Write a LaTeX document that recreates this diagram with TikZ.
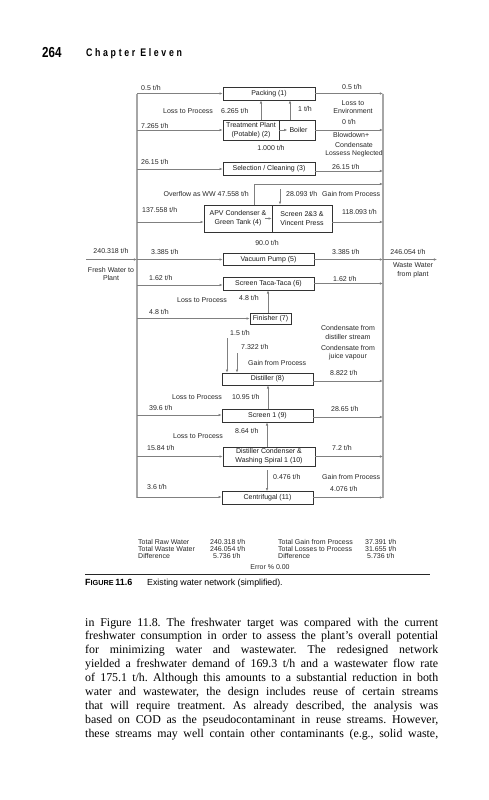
\documentclass[tikz,border=0pt]{standalone}
\usepackage{fontspec}
\usetikzlibrary{arrows.meta}
\newfontfamily\dfont{Liberation Sans}
\newfontfamily\bodyfont{Liberation Serif}
\newfontfamily\hdfont{Liberation Sans}[FakeStretch=0.8]
\newfontfamily\hdspaced{Liberation Sans}[FakeStretch=0.8,LetterSpace=24]
\newfontfamily\capfont{Liberation Sans}
\tikzset{
  lbl/.style={font=\dfont\fontsize{7}{8.5}\selectfont, text=black!85, inner sep=0pt, align=center},
  boxn/.style={draw=black!80, line width=0.6pt, inner sep=0pt, font=\dfont\fontsize{7}{9.3}\selectfont, text=black!90, align=center},
  flow/.style={draw=black!50, line width=0.6pt, -{Latex[length=3.2pt,width=2.6pt]}},
  hdr/.style={draw=black!35, line width=1.8pt},
}
\begin{document}
\begin{tikzpicture}[x=1pt,y=-1pt]
\useasboundingbox (0,0) rectangle (488,800);
% running head
\node[anchor=base west, inner sep=0pt, font=\hdfont\bfseries\fontsize{14.5}{14}\selectfont] (pg) at (42,57.5) {264};
\node[anchor=base west, inner sep=0pt, font=\hdspaced\bfseries\fontsize{11}{11}\selectfont] (ch) at (86,56.5) {Chapter Eleven};
% boxes
\node[boxn, minimum width=92pt, minimum height=13pt] (pack) at (269,93.5) {Packing (1)};
\node[boxn, minimum width=56pt, minimum height=20pt] (treat) at (251,130) {Treatment Plant\\(Potable) (2)};
\node[boxn, minimum width=36pt, minimum height=20pt] (boiler) at (297,130) {\hspace*{3pt}Boiler};
\node[boxn, minimum width=92pt, minimum height=13pt] (sel) at (269,169) {Selection / Cleaning (3)};
\node[boxn, minimum width=68pt, minimum height=27pt] (apv) at (238,218.5) {APV Condenser \&\\Green Tank (4)};
\node[boxn, minimum width=60pt, minimum height=27pt] (scr23) at (302,218.5) {Screen 2\&3 \&\\Vincent Press};
\node[boxn, minimum width=91pt, minimum height=12pt] (vac) at (268.5,259.5) {Vacuum Pump (5)};
\node[boxn, minimum width=91pt, minimum height=13pt] (taca) at (268.5,283.5) {Screen Taca-Taca (6)};
\node[boxn, minimum width=41pt, minimum height=11pt] (fin) at (270.5,318.5) {Finisher (7)};
\node[boxn, minimum width=91pt, minimum height=12pt] (dist) at (267.5,379) {Distiller (8)};
\node[boxn, minimum width=91pt, minimum height=13pt] (scr1) at (267.5,415.5) {Screen 1 (9)};
\node[boxn, minimum width=92pt, minimum height=19pt] (dcond) at (269,456.5) {Distiller Condenser \&\\Washing Spiral 1 (10)};
\node[boxn, minimum width=91pt, minimum height=13pt] (cent) at (267.5,498) {Centrifugal (11)};
% headers
\coordinate (lt) at (137,93.5); \coordinate (lb) at (137,497.5);
\coordinate (rt) at (383,93.5); \coordinate (rb) at (383,498);
\draw[hdr] (lt) -- (lb);
\draw[hdr] (rt) -- (rb);
% feeds from fresh water header
\foreach \yy/\nn in {93.5/pack,130/treat,169/sel,222/apv,259.5/vac,285/taca,318.5/fin,415/scr1,456.5/dcond,497/cent}{
  \coordinate (l\nn) at (137,\yy);
  \draw[flow] (l\nn) -- (l\nn -| \nn.west);
}
% outflows to waste header
\foreach \yy/\nn in {93.5/pack,130/boiler,171/sel,222/scr23,259.5/vac,283.5/taca,381/dist,417/scr1,456.5/dcond,497.5/cent}{
  \coordinate (r\nn) at (383,\yy);
  \draw[flow] (r\nn -| \nn.east) -- (r\nn);
}
% overflow and gain
\coordinate (ov) at (254,184); \coordinate (rov) at (383,184);
\draw[flow] (apv.north -| ov) -- (ov) -- (rov);
\coordinate (g1) at (280,189);
\draw[flow] (g1) -- (g1 |- scr23.north);
% internal arrows
\draw[flow] (treat.east) -- ++(8,0);
\draw[flow] ([xshift=-7pt]apv.east) -- (scr23.west);
% vertical arrows
\draw[flow] ([xshift=10pt]treat.north) -- ([xshift=10pt]treat.north |- pack.south);
\draw[flow] ([xshift=-7pt]boiler.north) -- ([xshift=-7pt]boiler.north |- pack.south);
\draw[flow] ([xshift=-2.5pt]fin.north) -- ([xshift=-2.5pt]fin.north |- taca.south);
\coordinate (in15) at (227,338); \draw[flow] (in15) -- (in15 |- dist.north);
\coordinate (in73) at (237,353); \draw[flow] (in73) -- (in73 |- dist.north);
\draw[flow] ([xshift=0.5pt]scr1.north) -- ([xshift=0.5pt]scr1.north |- dist.south);
\draw[flow] ([xshift=-2pt]dcond.north) -- ([xshift=-2pt]dcond.north |- scr1.south);
\coordinate (in476) at (267,470); \draw[flow] (in476) -- (in476 |- cent.north);
% fresh water in, waste water out
\coordinate (fw) at (86,259.5); \draw[flow] (fw) -- (lvac);
\coordinate (ww) at (437,259.5); \draw[flow] (rvac) -- (ww);
% left labels
\node[lbl, anchor=west] (a1) at (141,88.3) {0.5 t/h};
\node[lbl, anchor=west] (a2) at (141,125.7) {7.265 t/h};
\node[lbl, anchor=west] (a3) at (141,161.7) {26.15 t/h};
\node[lbl, anchor=west] (a4) at (142,210) {137.558 t/h};
\node[lbl, anchor=west] (a5) at (151,251.7) {3.385 t/h};
\node[lbl, anchor=west] (a6) at (149,277.7) {1.62 t/h};
\node[lbl, anchor=west] (a7) at (149,311.7) {4.8 t/h};
\node[lbl, anchor=west] (a8) at (149,407.7) {39.6 t/h};
\node[lbl, anchor=west] (a9) at (147,447.7) {15.84 t/h};
\node[lbl, anchor=west] (a10) at (147,486.7) {3.6 t/h};
% right labels
\node[lbl, anchor=west] (b1) at (342,87.3) {0.5 t/h};
\node[lbl] (b1b) at (353,107) {Loss to\\Environment};
\node[lbl, anchor=west] (b2) at (342,121.7) {0 t/h};
\node[lbl, anchor=west] (b2a) at (333,135.3) {Blowdown+};
\node[lbl] (b2b) at (354,145) {Condensate};
\node[lbl, font=\dfont\fontsize{6.8}{8}\selectfont] (b2c) at (354,154) {Lossess Neglected};
\node[lbl, anchor=west] (b3) at (332,166.7) {26.15 t/h};
\node[lbl, anchor=east] (ovl) at (249,194) {Overflow as WW 47.558 t/h};
\node[lbl, anchor=west] (g1l) at (286,194) {28.093 t/h};
\node[lbl, anchor=west] (g1m) at (322,194) {Gain from Process};
\node[lbl, anchor=west] (b4) at (342,211.7) {118.093 t/h};
\node[lbl] (n90) at (267,243.3) {90.0 t/h};
\node[lbl, anchor=west] (b5) at (332,251.7) {3.385 t/h};
\node[lbl, anchor=west] (b6) at (333,279) {1.62 t/h};
\node[lbl, anchor=west] (c1) at (163,111) {Loss to Process};
\node[lbl, anchor=west] (c1v) at (221,111) {6.265 t/h};
\node[lbl, anchor=west] (c2) at (298,109) {1 t/h};
\node[lbl] (c3) at (271,148.3) {1.000 t/h};
\node[lbl, anchor=west] (c4) at (177,300.3) {Loss to Process};
\node[lbl, anchor=west] (c4v) at (239,297.7) {4.8 t/h};
\node[lbl, anchor=west] (c5) at (230,333.3) {1.5 t/h};
\node[lbl, anchor=west] (c6) at (241,346.7) {7.322 t/h};
\node[lbl, anchor=west] (c7) at (248,363.3) {Gain from Process};
\node[lbl] (c8) at (348,332.5) {Condensate from\\distiller stream};
\node[lbl] (c9) at (348,352.5) {Condensate from\\juice vapour};
\node[lbl, anchor=west] (b8) at (330,373.3) {8.822 t/h};
\node[lbl, anchor=west] (c10) at (172,397.3) {Loss to Process};
\node[lbl, anchor=west] (c10v) at (232,396.7) {10.95 t/h};
\node[lbl, anchor=west] (b9) at (331,409.3) {28.65 t/h};
\node[lbl, anchor=west] (c11) at (173,435.7) {Loss to Process};
\node[lbl, anchor=west] (c11v) at (235,431) {8.64 t/h};
\node[lbl, anchor=west] (b10) at (332,447.7) {7.2 t/h};
\node[lbl, anchor=west] (c12) at (273,476.7) {0.476 t/h};
\node[lbl, anchor=west] (c13) at (322,476.7) {Gain from Process};
\node[lbl, anchor=west] (b11) at (330,489.3) {4.076 t/h};
% fresh / waste
\node[lbl] (fwv) at (111,250.7) {240.318 t/h};
\node[lbl] (fwl) at (111,273.8) {Fresh Water to\\Plant};
\node[lbl] (wwv) at (408,252.3) {246.054 t/h};
\node[lbl] (wwl) at (413,270.2) {Waste Water\\from plant};
% totals
\node[lbl, anchor=west] (t11) at (138,542.3) {Total Raw Water};
\node[lbl, anchor=west] (t12) at (210,542.3) {240.318 t/h};
\node[lbl, anchor=west] (t13) at (278,542.3) {Total Gain from Process};
\node[lbl, anchor=west] (t14) at (365,542.3) {37.391 t/h};
\node[lbl, anchor=west] (t21) at (138,549.3) {Total Waste Water};
\node[lbl, anchor=west] (t22) at (210,549.3) {246.054 t/h};
\node[lbl, anchor=west] (t23) at (278,549.3) {Total Losses to Process};
\node[lbl, anchor=west] (t24) at (365,549.3) {31.655 t/h};
\node[lbl, anchor=west] (t31) at (138,556.3) {Difference};
\node[lbl, anchor=west] (t32) at (213,556.3) {5.736 t/h};
\node[lbl, anchor=west] (t33) at (278,556.3) {Difference};
\node[lbl, anchor=west] (t34) at (367,556.3) {5.736 t/h};
\node[lbl] (err) at (270,566.7) {Error \% 0.00};
% caption
\draw[line width=1.3pt, black!85] (85,574.5) -- (430,574.5);
\node[anchor=base west, inner sep=0pt, font=\capfont] (capl) at (85,585) {{\bfseries\fontsize{9}{10}\selectfont F\fontsize{7.3}{10}\selectfont IGURE}\hspace{1.5pt}{\bfseries\fontsize{9}{10}\selectfont 11.6}};
\node[anchor=base west, inner sep=0pt, font=\capfont\fontsize{8.8}{10}\selectfont] (capt) at (147,585) {Existing water network (simplified).};
% body text
\node[anchor=base west, inner sep=0pt] (body) at (85,626) {\vtop{\bodyfont\fontsize{11.9}{13.95}\selectfont\frenchspacing\baselineskip=13.95pt
\hbox to 353pt{in Figure 11.8. The freshwater target was compared with the current}
\hbox to 353pt{freshwater consumption in order to assess the plant’s overall potential}
\hbox to 353pt{for minimizing water and wastewater. The redesigned network}
\hbox to 353pt{yielded a freshwater demand of 169.3 t/h and a wastewater flow rate}
\hbox to 353pt{of 175.1 t/h. Although this amounts to a substantial reduction in both}
\hbox to 353pt{water and wastewater, the design includes reuse of certain streams}
\hbox to 353pt{that will require treatment. As already described, the analysis was}
\hbox to 353pt{based on COD as the pseudocontaminant in reuse streams. However,}
\hbox to 353pt{these streams may well contain other contaminants (e.g., solid waste,}}};
\end{tikzpicture}
\end{document}
